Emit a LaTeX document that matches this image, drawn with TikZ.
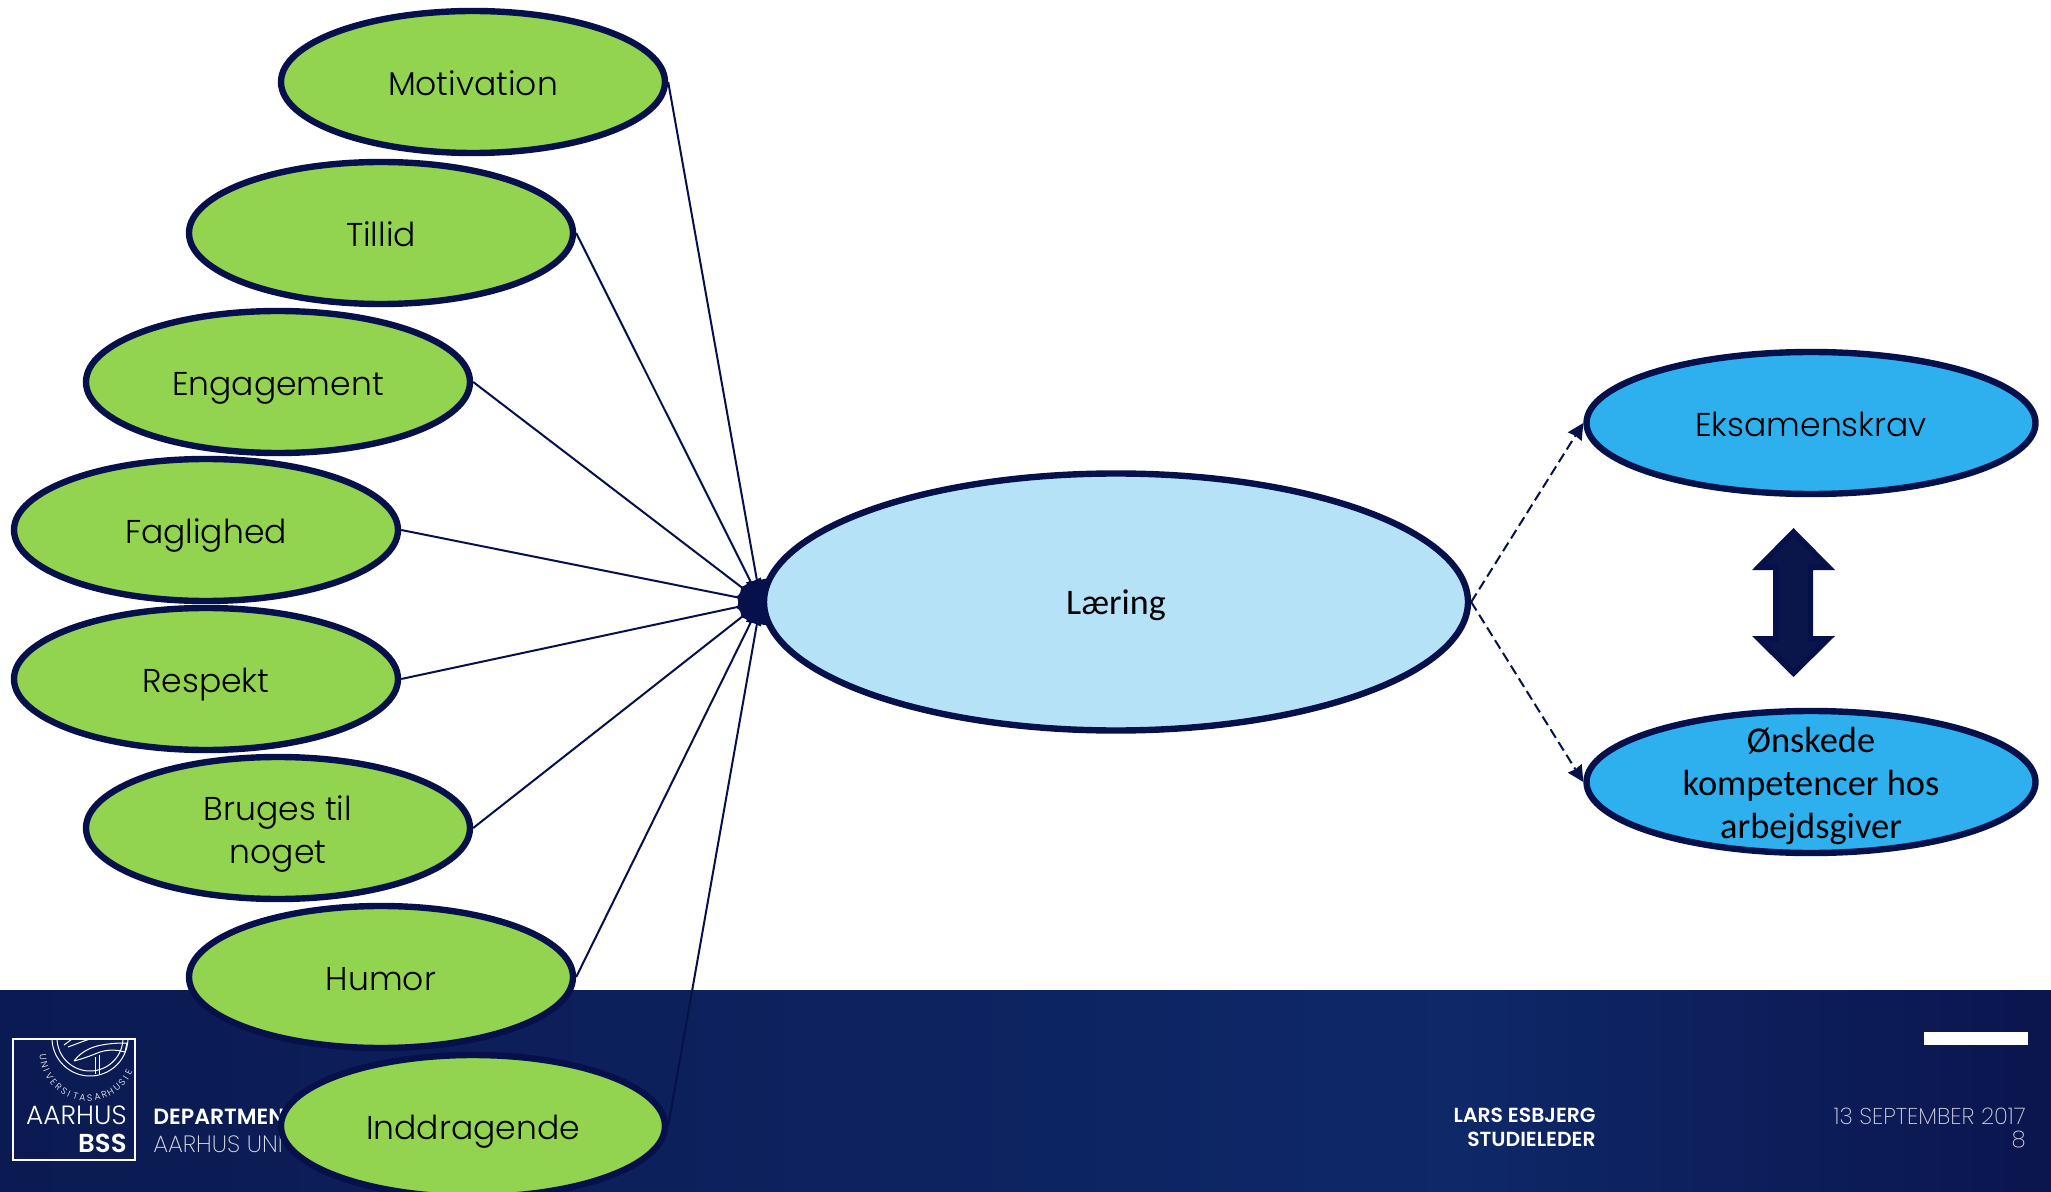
\documentclass[tikz,border=0pt]{standalone}
\usepackage{fontspec}
\usetikzlibrary{shapes.geometric,arrows.meta}
\setmainfont{Poppins Light}
\newfontfamily\bodyf{Carlito}
\newfontfamily\boldf{Poppins SemiBold}
\newfontfamily\thinf{Poppins ExtraLight}
\definecolor{navy}{HTML}{06104A}
\definecolor{navyin}{HTML}{0A1549}
\definecolor{lime}{HTML}{92D350}
\definecolor{pale}{HTML}{B6E2F8}
\definecolor{sky}{HTML}{2FB0EE}
\definecolor{footL}{HTML}{0B1A52}
\definecolor{footM}{HTML}{0E2868}
\definecolor{footR}{HTML}{0B154E}
\newcommand{\unitpx}{*0.5pt}
\tikzset{
  oval/.style={ellipse,draw=navy,line width=3.2pt,inner sep=0pt,align=center,text=black,font=\fontsize{16.5}{21.5}\selectfont,text height=15.5pt,text depth=2pt},
  green oval/.style={oval,fill=lime,minimum width=384\unitpx,minimum height=142\unitpx},
  blue oval/.style={oval,fill=sky,minimum width=449\unitpx,minimum height=142\unitpx},
  over text/.style={inner sep=0pt,align=center,text=black},
  spoke/.style={draw=navy,line width=1pt,-{Stealth[length=11pt,width=11pt,inset=0pt]}},
  dash link/.style={draw=navy,line width=1pt,dash pattern=on 5pt off 2.5pt,-{Stealth[length=8pt,width=8pt,inset=0.5pt]}},
  foot/.style={text=white,inner sep=0pt},
  seal/.style={white,line width=0.5pt},
  sealletter/.style={text=white,inner sep=0pt,font=\fontsize{4.6}{5}\selectfont},
}
\begin{document}
\begin{tikzpicture}[x=0.5pt,y=-0.5pt]
\useasboundingbox (0,0) rectangle (2051,1192);
% footer
\fill[left color=footL,right color=footM,draw=none] (0,990) rectangle (1460,1192);
\fill[left color=footM,right color=footR,draw=none] (1459,990) rectangle (2051,1192);
\fill[white] (1924,1032) rectangle (2028,1045);
% logo
\begin{scope}
\clip (13,1039) rectangle (135,1160);
\draw[seal] plot[domain=180:0,samples=40,smooth] ({90+33*cos(\x)},{1038+33*sin(\x)});
\draw[seal] plot[domain=180:0,samples=40,smooth] ({90+38*cos(\x)},{1038+38*sin(\x)});
\foreach \ch/\ang [count=\i] in {U/175,N/165,I/157,V/149,E/140,R/131,S/122,I/115,T/106,A/97,S/88,A/78,R/69,H/60,U/50,S/41,I/33,E/25}
  \node[sealletter,rotate={90-\ang}] (sl\i) at ({88+45*cos(\ang)},{1053+45*sin(\ang)}) {\ch};
\draw[seal] (74,1061) .. controls (82,1050) and (95,1046) .. (102,1045) .. controls (112,1043) and (122,1043) .. (127,1043) -- (125,1052) .. controls (118,1050) and (110,1049) .. (100,1052) .. controls (90,1056) and (82,1059) .. (74,1061);
\draw[seal] (95,1057) -- (95,1074) (99,1055) -- (99,1074);
\draw[seal] (64,1045) -- (72,1039) (68,1047) -- (84,1041) -- (90,1039);
\end{scope}
\draw[white,line width=0.8pt] (13,1039) rectangle (135,1160);
\node[foot,anchor=base east,font=\fontsize{13.2}{13}\selectfont] (logoA) at (127,1124) {AARHUS};
\node[foot,anchor=base east,font=\boldf\fontsize{13}{13}\selectfont] (logoB) at (127,1152) {BSS};
\node[foot,anchor=base west,font=\boldf\fontsize{11}{11}\selectfont] (dept) at (153,1124) {DEPARTMENT};
\node[foot,anchor=base west,text=white!85!footL,font=\thinf\fontsize{11.8}{11}\selectfont] (univ) at (153,1152) {AARHUS UNI};
\node[foot,anchor=base east,font=\boldf\fontsize{10.2}{12}\selectfont] (lars) at (1596,1122) {LARS ESBJERG};
\node[foot,anchor=base east,font=\boldf\fontsize{10.2}{12}\selectfont] (stud) at (1596,1146) {STUDIELEDER};
\node[foot,anchor=base east,text=white!80!footR,font=\thinf\fontsize{11.45}{12}\selectfont] (date) at (2026,1124) {13 SEPTEMBER 2017};
\node[foot,anchor=base east,text=white!80!footR,font=\thinf\fontsize{11.45}{12}\selectfont] (page) at (2026,1147) {8};
% nodes
\node[oval,fill=pale,minimum width=704\unitpx,minimum height=257\unitpx,font=\bodyf\fontsize{18}{21}\selectfont,text height=13pt,text depth=1pt] (laering) at (1116,602) {Læring};
\node[green oval] (motivation) at (473,82) {Motivation};
\node[green oval] (tillid) at (381,233) {Tillid};
\node[green oval] (engagement) at (278,382) {Engagement};
\node[green oval] (faglighed) at (206,530) {Faglighed};
\node[green oval] (respekt) at (206,679) {Respekt};
\node[green oval] (bruges) at (278,828) {};
\node[over text,font=\fontsize{16.5}{21.5}\selectfont] (brugestext) at (278,834) {Bruges til\\noget};
\node[green oval] (humor) at (381,977) {Humor};
\node[green oval] (inddragende) at (473,1126) {Inddragende};
\node[blue oval] (eksamen) at (1811,423) {Eksamenskrav};
\node[blue oval] (oenskede) at (1811,782) {};
\node[over text,font=\bodyf\fontsize{18.2}{21.6}\selectfont] (oenskedetext) at (1811,786) {Ønskede\\kompetencer hos\\arbejdsgiver};
% connectors
\foreach \src in {motivation,tillid,engagement,faglighed,respekt,bruges,humor,inddragende}
  \draw[spoke] (\src.east) -- (laering.west);
\draw[dash link] (laering.east) -- (eksamen.west);
\draw[dash link] (laering.east) -- (oenskede.west);
% double arrow
\fill[navy] (1793.5,528) -- (1835,570) -- (1813,570) -- (1813,636) -- (1835,636) -- (1793.5,677) -- (1752,636) -- (1773,636) -- (1773,570) -- (1752,570) -- cycle;
\fill[navyin] (1793.5,537) -- (1822,564) -- (1808,564) -- (1808,642) -- (1822,642) -- (1793.5,668) -- (1765,642) -- (1779,642) -- (1779,564) -- (1765,564) -- cycle;
\end{tikzpicture}
\end{document}
